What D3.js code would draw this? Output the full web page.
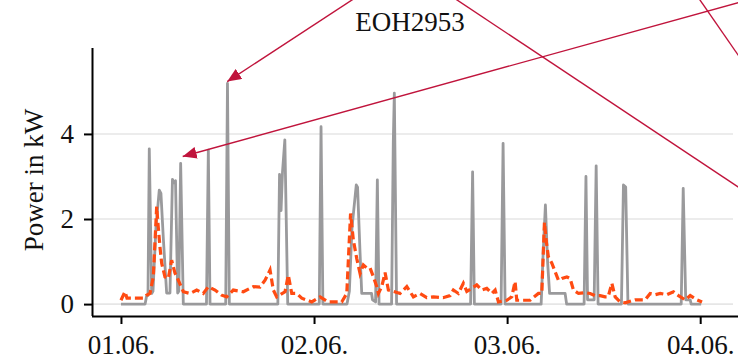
<!DOCTYPE html>
<html>
<head>
<meta charset="utf-8">
<script src="https://cdn.jsdelivr.net/npm/d3@7"></script>
<style>
  body { margin: 0; background: #fff; }
  svg { display: block; font-family: "Liberation Serif", "DejaVu Serif", serif; }
</style>
</head>
<body>
<svg id="chart" width="738" height="362"></svg>
<script>
// hours since 01.06. 00:00 and power in kW
var grayHours = [0, 3.0, 3.2, 3.36, 3.52, 3.82, 3.98, 4.35, 4.76, 4.97, 5.28, 5.68, 6.09, 6.4, 6.59, 6.78, 7.05, 7.19, 7.42, 7.75,
  10.63, 10.86, 11.07, 13.02, 13.24, 13.47, 19.5, 19.71, 19.9, 20.08, 20.37, 20.73, 24.65, 24.87, 25.1,
  28.1, 28.39, 28.72, 29.25, 29.41, 29.72, 29.93, 31.15, 31.27, 31.65, 31.87, 32.08, 33.64, 33.85, 33.98, 34.26,
  43.46, 43.71, 43.93, 47.25, 47.5, 47.75, 52.23, 52.48, 52.76, 53.03, 53.28, 55.21, 55.4,
  57.57, 57.8, 58.0, 58.82, 59.07, 59.31, 62.21, 62.46, 62.74, 63.02, 69.64, 69.89, 70.2, 70.76, 70.88, 72.12];
var grayKW = [0, 0, 0.2, 0.2, 3.65, 0.25, 0.3, 1.8, 2.68, 2.6, 1.5, 0.26, 0.26, 2.93, 2.85, 2.9, 0.26, 0.3, 3.31, 0,
  0, 3.62, 0, 0, 5.19, 0, 0, 3.05, 2.2, 3.1, 3.86, 0, 0, 4.17, 0,
  0, 0.3, 1.8, 2.8, 2.75, 1.2, 0.25, 0.25, 0.1, 0.05, 2.92, 0, 0, 3.8, 4.96, 0,
  0, 3.11, 0, 0, 3.78, 0, 0, 1.2, 2.33, 1.0, 0.25, 0.25, 0,
  0, 3.0, 0.1, 0.1, 3.25, 0, 0, 2.8, 2.75, 0, 0, 2.72, 0.1, 0.1, 0, 0];

var orangeHours = [0, 0.5, 0.75, 2.74, 3.11, 3.61, 4.02, 4.44, 4.64, 4.85, 5.06, 5.47, 5.88, 6.3, 6.71, 7.13, 7.75, 8.58, 9.41, 10.23,
  10.86, 11.69, 12.52, 13.14, 13.96, 15.21, 16.45, 17.28, 17.91, 18.53, 18.94, 19.36, 20.39, 20.8, 21.23, 21.85, 22.47, 23.71,
  24.75, 25.74, 27.44, 28.07, 28.54, 28.89, 29.31, 29.72, 30.13, 30.55, 30.96, 31.38, 31.8, 32.0, 32.42, 32.83, 33.24, 33.86,
  34.69, 35.53, 36.35, 37.18, 38.01, 38.84, 40.04, 40.91, 41.32, 41.94, 42.56, 42.99, 43.61, 44.23, 44.85, 45.47, 46.1, 46.51,
  46.92, 47.96, 48.58, 48.99, 49.2, 50.86, 51.89, 52.31, 52.64, 52.85, 53.13, 53.56, 53.97, 54.38, 54.8, 55.42, 55.83, 56.25,
  56.87, 57.7, 58.32, 58.94, 59.56, 60.18, 60.56, 61.02, 61.43, 62.05, 62.67, 63.92, 65.16, 65.78, 66.4, 67.03, 67.86, 68.68,
  69.3, 70.13, 70.76, 71.61, 72.23];
var orangeKW = [0.09, 0.29, 0.14, 0.14, 0.2, 0.25, 0.64, 2.29, 1.8, 1.34, 0.96, 0.64, 0.6, 1.03, 0.73, 0.56, 0.29, 0.25, 0.33, 0.25,
  0.41, 0.33, 0.21, 0.17, 0.33, 0.29, 0.41, 0.4, 0.56, 0.8, 0.33, 0.17, 0.29, 0.68, 0.25, 0.25, 0.14, 0.05,
  0.17, 0.05, 0.05, 0.25, 2.13, 1.5, 1.07, 0.72, 0.92, 0.85, 0.85, 0.64, 0.41, 0.25, 0.41, 0.74, 0.33, 0.3,
  0.25, 0.41, 0.17, 0.25, 0.15, 0.17, 0.15, 0.2, 0.33, 0.25, 0.49, 0.3, 0.37, 0.45, 0.33, 0.37, 0.25, 0.33,
  0.05, 0.09, 0.17, 0.53, 0.09, 0.09, 0.25, 0.25, 1.92, 1.5, 1.11, 0.96, 0.76, 0.56, 0.6, 0.64, 0.6, 0.33,
  0.25, 0.27, 0.25, 0.2, 0.2, 0.17, 0.17, 0.49, 0.17, 0.05, 0.03, 0.1, 0.1, 0.25, 0.22, 0.25, 0.22, 0.29,
  0.2, 0.1, 0.2, 0.1, 0.05];

var dayTicks = [0, 24, 48, 72];
var dayLabels = ["01.06.", "02.06.", "03.06.", "04.06."];
var yTicks = [0, 2, 4];

// annotation arrows coming in from neighbouring panels (tips in data units)
var arrowTips = [[13.21, 5.23], [7.67, 3.47]];

var svg = d3.select("#chart");

var x = d3.scaleLinear().domain([-3.6, 76.7]).range([92, 738]);
var y = d3.scaleLinear().domain([-0.28, 6.02]).range([316, 48]);

// grid
svg.append("g")
  .selectAll("line")
  .data(yTicks)
  .enter().append("line")
  .attr("x1", 92).attr("x2", 733)
  .attr("y1", d => y(d)).attr("y2", d => y(d))
  .attr("stroke", "#e6e6e6")
  .attr("stroke-width", 1.6);

var gray = d3.zip(grayHours, grayKW);
var orange = d3.zip(orangeHours, orangeKW);

var line = d3.line().x(d => x(d[0])).y(d => y(d[1]));

svg.append("path")
  .datum(gray)
  .attr("d", line)
  .attr("fill", "none")
  .attr("stroke", "#9a9a9c")
  .attr("stroke-width", 2.8)
  .attr("stroke-linejoin", "round");

svg.append("path")
  .datum(orange)
  .attr("d", line)
  .attr("fill", "none")
  .attr("stroke", "#ff4b12")
  .attr("stroke-width", 3.2)
  .attr("stroke-dasharray", "8,4");

// axes
var xAxis = svg.append("g")
  .attr("transform", "translate(0,316)")
  .call(d3.axisBottom(x).tickValues(dayTicks).tickSize(8).tickPadding(11)
    .tickFormat((d, i) => dayLabels[i]));
var yAxis = svg.append("g")
  .attr("transform", "translate(92,0)")
  .call(d3.axisLeft(y).tickValues(yTicks).tickSize(8).tickPadding(10).tickFormat(d3.format("d")));

[xAxis, yAxis].forEach(function (g) {
  g.select(".domain").attr("stroke", "#000").attr("stroke-width", 2);
  g.selectAll(".tick line").attr("stroke", "#000").attr("stroke-width", 2);
  g.selectAll(".tick text")
    .attr("fill", "#111")
    .style("font-family", "'Liberation Serif', serif")
    .style("font-size", "27px");
});
// straight spine ends, no outer ticks
xAxis.select(".domain").attr("d", "M92,0.5H738");
yAxis.select(".domain").attr("d", "M0.5,48V316");

svg.append("text")
  .attr("x", 410).attr("y", 31)
  .attr("text-anchor", "middle")
  .attr("fill", "#111")
  .style("font-size", "27px")
  .text("EOH2953");

svg.append("text")
  .attr("transform", "translate(43,180) rotate(-90)")
  .attr("text-anchor", "middle")
  .attr("fill", "#111")
  .style("font-size", "27px")
  .text("Power in kW");

// annotation lines
var red = "#c0143c";
var defs = svg.append("defs");
defs.append("marker")
  .attr("id", "head")
  .attr("viewBox", "0 0 14 12")
  .attr("refX", 14).attr("refY", 6)
  .attr("markerWidth", 14).attr("markerHeight", 12)
  .attr("markerUnits", "userSpaceOnUse")
  .attr("orient", "auto")
  .append("path")
  .attr("d", "M0,0L14,6L0,12Z")
  .attr("fill", red);

var tails = [[357, -3.3], [760, -3.4]];
arrowTips.forEach(function (t, i) {
  svg.append("line")
    .attr("x1", tails[i][0]).attr("y1", tails[i][1])
    .attr("x2", x(t[0])).attr("y2", y(t[1]))
    .attr("stroke", red)
    .attr("stroke-width", 1.4)
    .attr("marker-end", "url(#head)");
});
// lines whose heads lie outside this panel
[[[450, -4.7], [760, 201.6]], [[697, -4.3], [745, 65]]].forEach(function (s) {
  svg.append("line")
    .attr("x1", s[0][0]).attr("y1", s[0][1])
    .attr("x2", s[1][0]).attr("y2", s[1][1])
    .attr("stroke", red)
    .attr("stroke-width", 1.4);
});
</script>
</body>
</html>
